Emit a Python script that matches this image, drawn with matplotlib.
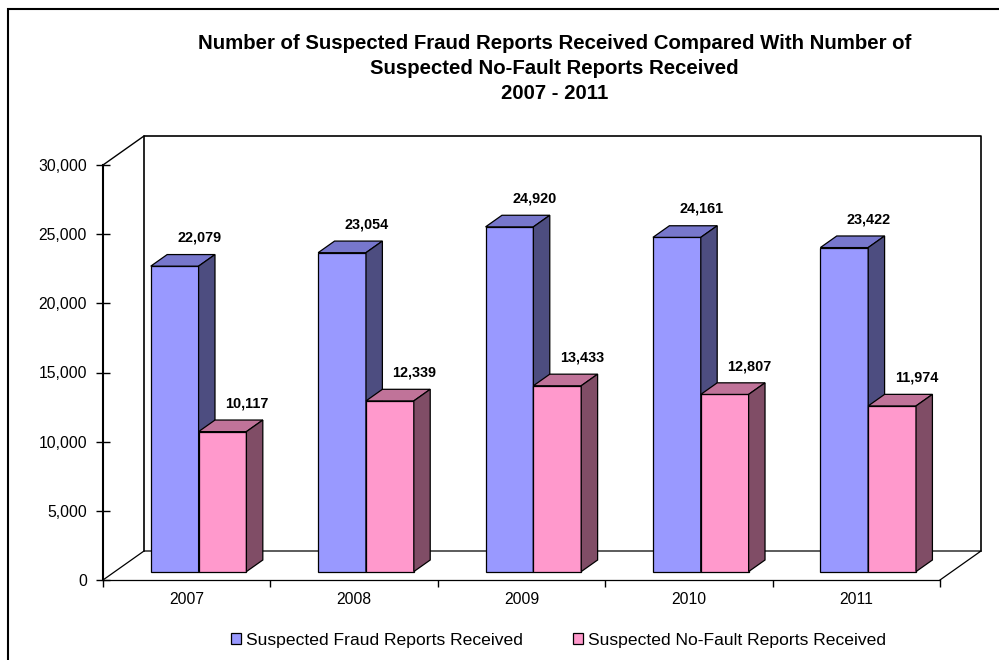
import matplotlib
matplotlib.use("Agg")
import matplotlib.pyplot as plt
from matplotlib.patches import Polygon, Rectangle, Patch
import numpy as np

# ---------------- data ----------------
years = ["2007", "2008", "2009", "2010", "2011"]
fraud = [22079, 23054, 24920, 24161, 23422]
nofault = [10117, 12339, 13433, 12807, 11974]
series_names = ["Suspected Fraud Reports Received",
                "Suspected No-Fault Reports Received"]
y_ticks = [0, 5000, 10000, 15000, 20000, 25000, 30000]
title_lines = ["Number of Suspected Fraud Reports Received Compared With Number of",
               "Suspected No-Fault Reports Received",
               "2007 - 2011"]

# ---------------- style ----------------
plt.rcParams['font.family'] = ['Liberation Sans', 'DejaVu Sans']
front_cols = ["#9999FF", "#FF99CC"]
top_cols = ["#7777CC", "#C07399"]
side_cols = ["#4D4D80", "#804D66"]

W, H = 999, 660
fig = plt.figure(figsize=(W / 100, H / 100), dpi=100)
fig.patch.set_facecolor("white")

# outer frame (right/bottom edges fall outside the picture)
fig.patches.append(Rectangle((8 / W, -0.2), 1.2, (H - 9) / H + 0.2,
                             transform=fig.transFigure, fill=False,
                             lw=1.5, ec="black"))

ax = fig.add_axes([103 / W, (H - 580) / H, 837 / W, 415 / H])
ax.set_xlim(0, len(years))
ax.set_ylim(y_ticks[0], y_ticks[-1])
ax.patch.set_visible(False)

# depth vector (pixels) converted to data units
p0 = ax.transData.transform((0, 0))
Dx, Dy = ax.transData.inverted().transform(p0 + np.array([41.0, 29.0]))
n = len(years)
ymax = y_ticks[-1]

line_kw = dict(color="black", lw=1.2, clip_on=False, zorder=1,
               solid_capstyle="projecting")
# back wall
ax.plot([Dx, Dx, n + Dx, n + Dx], [Dy, ymax + Dy, ymax + Dy, Dy], **line_kw)
# left wall top edge
ax.plot([0, Dx], [ymax, ymax + Dy], color="black", lw=1.0, clip_on=False, zorder=1)
# floor
ax.plot([0, Dx, n + Dx, n], [0, Dy, Dy, 0], color="black", lw=0.9,
        clip_on=False, zorder=1)

# bars
w = 1 / 3.5
t0, t1 = 0.29, 0.69
for i in range(n):
    for s, vals in enumerate([fraud, nofault]):
        v = vals[i]
        x0 = i + 0.5 - w + s * w
        x1 = x0 + w
        fx0, fx1, fy = x0 + t0 * Dx, x1 + t0 * Dx, t0 * Dy
        bx0, bx1, by = x0 + t1 * Dx, x1 + t1 * Dx, t1 * Dy
        front = [(fx0, fy), (fx1, fy), (fx1, v + fy), (fx0, v + fy)]
        top = [(fx0, v + fy), (fx1, v + fy), (bx1, v + by), (bx0, v + by)]
        side = [(fx1, fy), (bx1, by), (bx1, v + by), (fx1, v + fy)]
        z = 3 + i * 3 + s
        for poly, col in [(front, front_cols[s]), (top, top_cols[s]), (side, side_cols[s])]:
            ax.add_patch(Polygon(poly, closed=True, fc=col, ec="black",
                                 lw=0.9, joinstyle="miter", clip_on=False, zorder=z))
        ax.annotate(f"{v:,}", xy=((fx0 + fx1) / 2, v + fy),
                    xytext=(24.7 * 0.72, 28.4 * 0.72), textcoords="offset points",
                    ha="center", va="center", fontsize=10.4, fontweight="bold",
                    annotation_clip=False, zorder=40)

# axes / ticks
for sp in ["top", "right"]:
    ax.spines[sp].set_visible(False)
ax.spines["left"].set_linewidth(1.5)
ax.spines["bottom"].set_linewidth(0.9)
ax.spines["left"].set_zorder(2)
ax.spines["bottom"].set_zorder(2)

ax.set_yticks(y_ticks)
ax.set_yticklabels([f"{t:,}" for t in y_ticks])
ax.tick_params(axis="y", direction="inout", length=10, width=1.0,
               labelsize=11.3, pad=6.5)

ax.set_xticks([i + 0.5 for i in range(n)])
ax.set_xticklabels(years)
ax.set_xticks(list(range(n + 1)), minor=True)
ax.tick_params(axis="x", which="major", length=0, labelsize=11.3, pad=9)
ax.tick_params(axis="x", which="minor", length=5, width=1.0, direction="out")

# title
for k, line in enumerate(title_lines):
    fig.text(554.5 / W, 1 - (49 + 25 * k) / H, line, ha="center", va="baseline",
             fontsize=14.7, fontweight="bold")

# legend
handles = [Patch(fc=front_cols[s], ec="black", lw=0.9) for s in range(2)]
fig.legend(handles, series_names, ncol=2, frameon=False, loc="center",
           bbox_to_anchor=(558.5 / W, 1 - 640 / H), fontsize=12.6,
           handlelength=0.55, handleheight=0.55, handletextpad=0.3,
           columnspacing=2.85, borderpad=0, borderaxespad=0)

fig.savefig("out.png", dpi=100)
